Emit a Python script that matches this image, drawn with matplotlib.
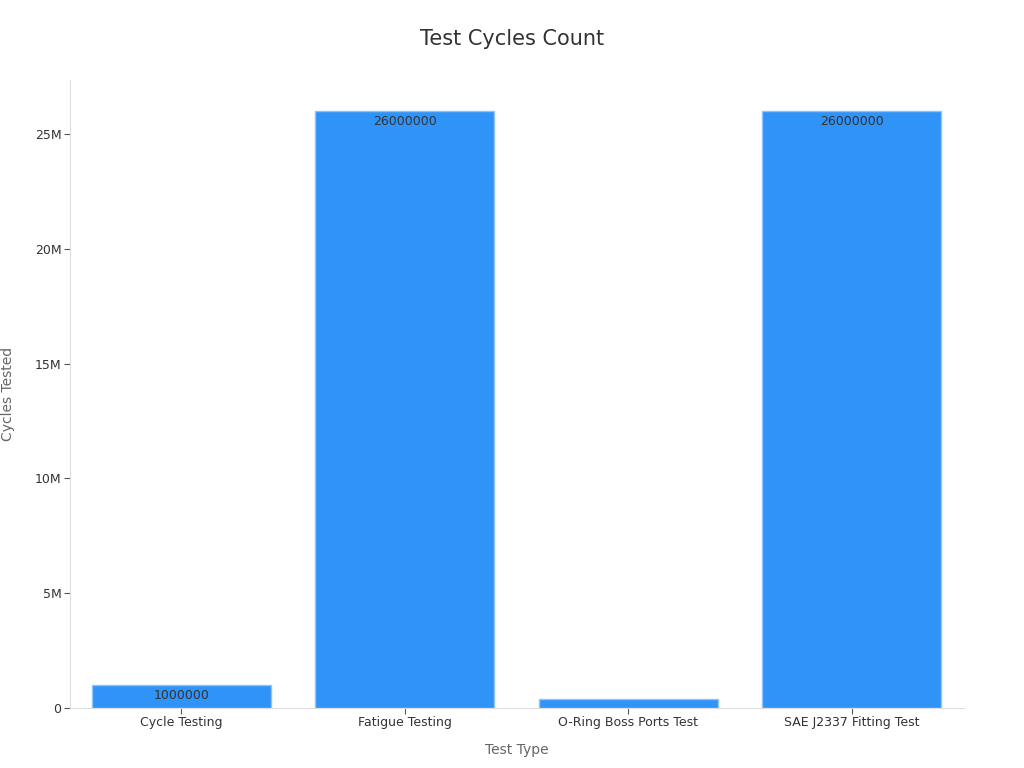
import matplotlib
matplotlib.use("Agg")
import matplotlib.pyplot as plt
from matplotlib.ticker import FuncFormatter

categories = ["Cycle Testing", "Fatigue Testing", "O-Ring Boss Ports Test", "SAE J2337 Fitting Test"]
values = [1000000, 26000000, 400000, 26000000]
labels = ["1000000", "26000000", "", "26000000"]

fig = plt.figure(figsize=(10.24, 7.68), dpi=100)
ax = fig.add_axes([0.068, 0.078, 0.873, 0.818])
bars = ax.bar(categories, values, width=0.8, color="#2f93f8", edgecolor="#8cc4fb", linewidth=1)
for b, v, l in zip(bars, values, labels):
    if l:
        ax.text(b.get_x() + b.get_width() / 2, v - 180000, l, ha="center", va="top", fontsize=9, color="#333333")
ax.set_ylim(0, 27.35e6)
ax.set_xlim(-0.5, 3.5)
ax.yaxis.set_major_formatter(FuncFormatter(lambda v, p: "0" if v == 0 else f"{v/1e6:.0f}M"))
for s in ["top", "right"]:
    ax.spines[s].set_visible(False)
for s in ["left", "bottom"]:
    ax.spines[s].set_color("#dddddd")
ax.tick_params(colors="#333333", labelsize=9, pad=2)
ax.tick_params(axis="both", color="#555555", length=4)
ax.set_xlabel("Test Type", color="#666666", fontsize=10, labelpad=10)
ax.set_ylabel("Cycles Tested", color="#666666", fontsize=10, labelpad=14)
fig.suptitle("Test Cycles Count", fontsize=15, color="#333333", y=0.962)
fig.savefig("out.png", dpi=100)
